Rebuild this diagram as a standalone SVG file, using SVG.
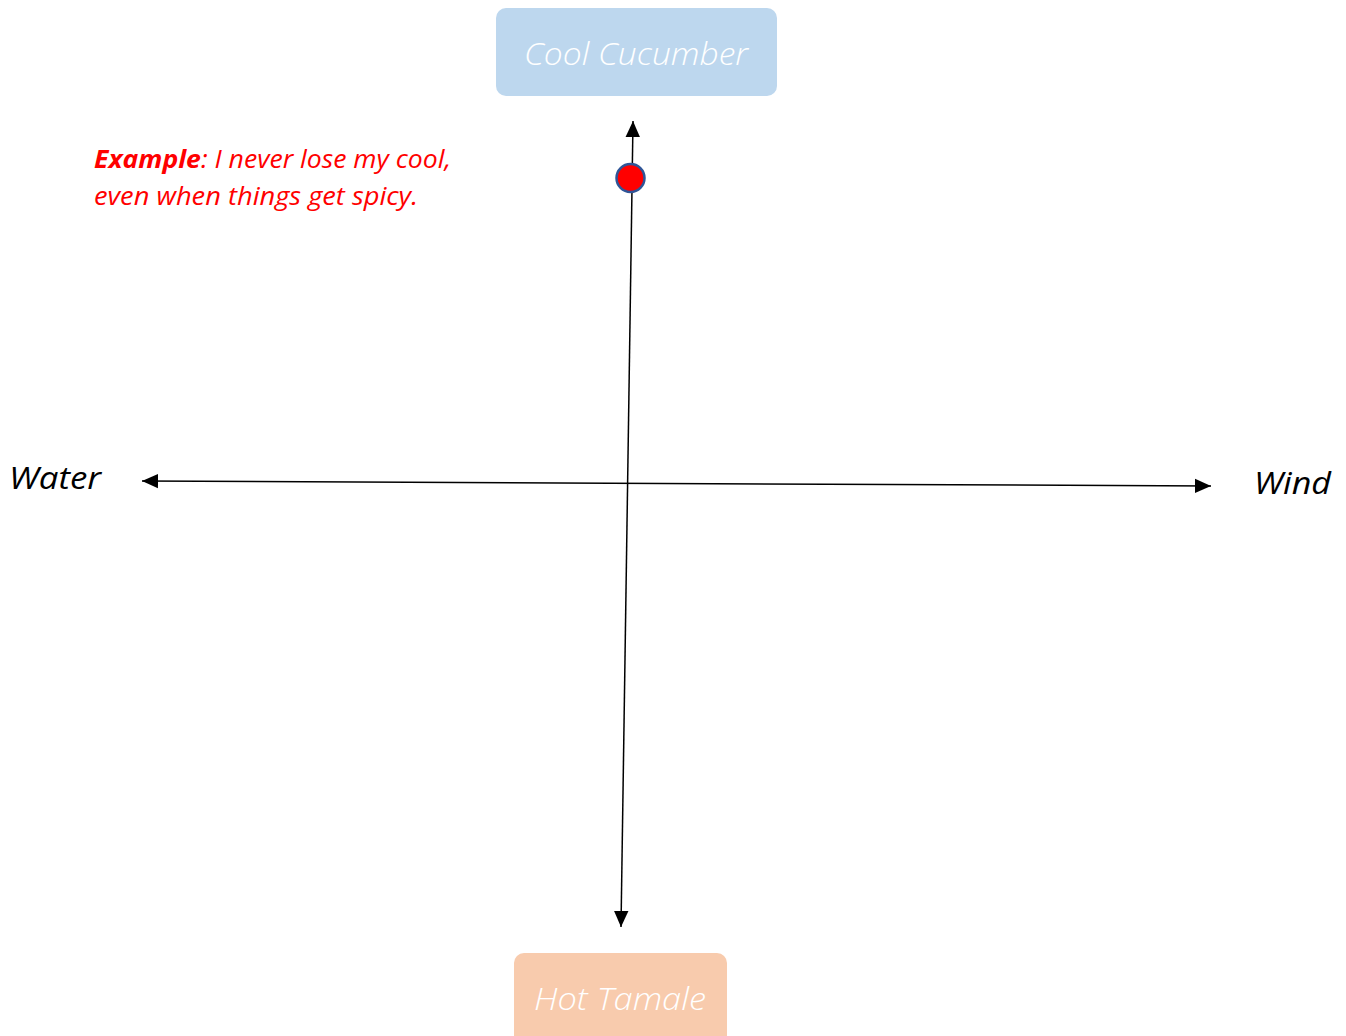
<svg xmlns="http://www.w3.org/2000/svg" width="1346" height="1036" viewBox="0 0 1346 1036">
<style>
text{font-family:"Open Sans","Noto Sans","Liberation Sans",sans-serif;font-style:italic}
.lbl{font-size:31px;fill:#ffffff;font-weight:300}
.axis{font-size:31px;fill:#000000;font-weight:normal}
.ex{font-size:25px;fill:#ff0000}
.conn{stroke:#000;stroke-width:1.5;fill:none}
</style>
<defs>
<marker id="ah2" viewBox="0 0 10 10" refX="10" refY="5" markerWidth="16" markerHeight="16" markerUnits="userSpaceOnUse" orient="auto-start-reverse">
<path d="M0,0.5 L10,5 L0,9.5 Z" fill="#000"/>
</marker>
</defs>
<g id="cool">
<rect x="496" y="8" width="281" height="88" rx="10" fill="#BDD7EE"/>
<text class="lbl" x="636" y="65" text-anchor="middle" textLength="224" lengthAdjust="spacingAndGlyphs">Cool Cucumber</text>
</g>
<g id="hot">
<rect x="514" y="953" width="213" height="100" rx="10" fill="#F8CBAD"/>
<text class="lbl" x="620" y="1010" text-anchor="middle" textLength="172" lengthAdjust="spacingAndGlyphs">Hot Tamale</text>
</g>
<g id="connectors">
<line class="conn" x1="621" y1="927" x2="633" y2="121" marker-start="url(#ah2)" marker-end="url(#ah2)"/>
<line class="conn" x1="142" y1="481" x2="1211" y2="486" marker-start="url(#ah2)" marker-end="url(#ah2)"/>
</g>
<g id="water"><text class="axis" x="9" y="489" textLength="92" lengthAdjust="spacingAndGlyphs">Water</text></g>
<g id="wind"><text class="axis" x="1254" y="494" textLength="77" lengthAdjust="spacingAndGlyphs">Wind</text></g>
<g id="dot"><circle cx="630.5" cy="178" r="14" fill="#FF0000" stroke="#2F5597" stroke-width="2.5"/></g>
<g id="example">
<text class="ex" x="94" y="168" textLength="357" lengthAdjust="spacingAndGlyphs"><tspan font-weight="bold">Example</tspan>: I never lose my cool,</text>
<text class="ex" x="94" y="205" textLength="324" lengthAdjust="spacingAndGlyphs">even when things get spicy.</text>
</g>
</svg>
